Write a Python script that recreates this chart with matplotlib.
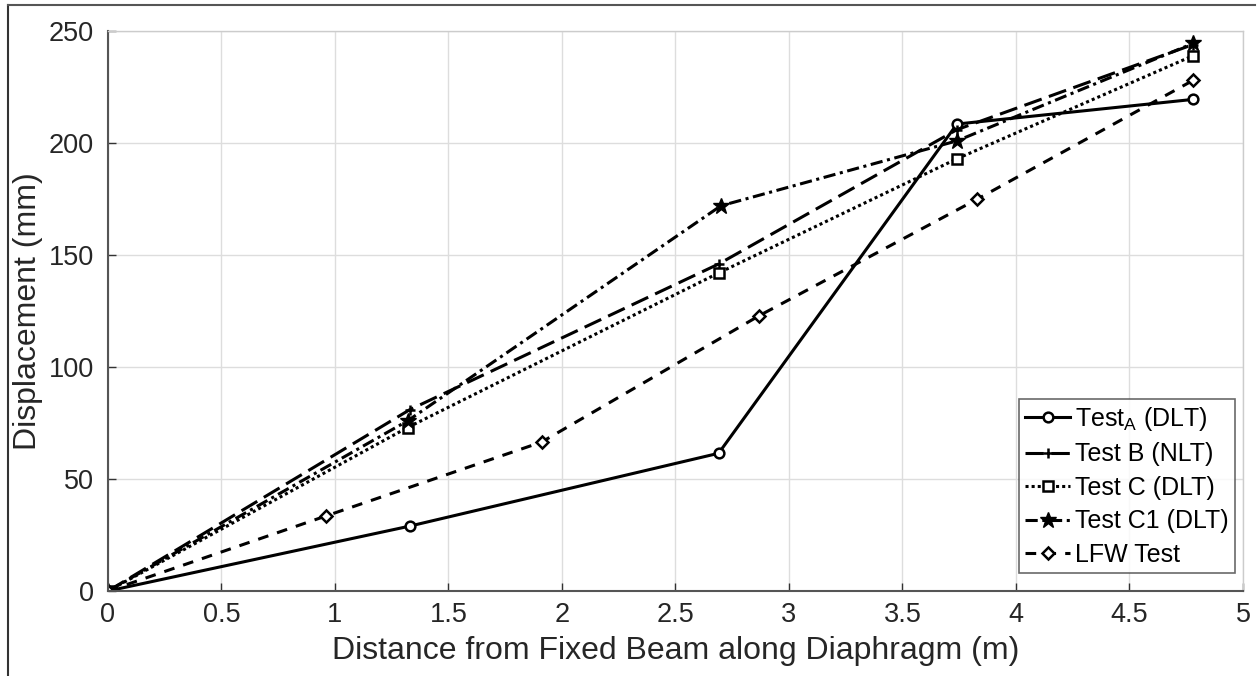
import matplotlib
matplotlib.use('Agg')
import matplotlib.pyplot as plt
from matplotlib.lines import Line2D

plt.rcParams['font.family'] = ['Liberation Sans', 'DejaVu Sans']

# distance along diaphragm (m) and displacement (mm) for each test
x_a = [0, 1.33, 2.69, 3.74, 4.78]
y_a = [0, 29, 61.5, 208.5, 219.5]
x_b = [0, 1.33, 2.69, 3.74, 4.78]
y_b = [0, 81, 146, 206, 244]
x_c = [0, 1.32, 2.69, 3.74, 4.78]
y_c = [0, 73, 142, 193, 239]
x_c1 = [0, 1.32, 2.70, 3.74, 4.78]
y_c1 = [0, 76, 172, 201, 244.5]
x_lfw = [0, 0.96, 1.91, 2.87, 3.83, 4.78]
y_lfw = [0, 33.5, 66.5, 123, 175, 228]

names = ['Test$_{\\mathregular{A}}$ (DLT)', 'Test B (NLT)', 'Test C (DLT)',
         'Test C1 (DLT)', 'LFW Test']
xticks = [0, 0.5, 1, 1.5, 2, 2.5, 3, 3.5, 4, 4.5, 5]
yticks = [0, 50, 100, 150, 200, 250]

fig = plt.figure(figsize=(12.6, 6.76), dpi=100)
ax = fig.add_axes([0.0857, 0.1257, 0.9008, 0.8283])

k = dict(color='black', lw=2.2, ms=7, mew=1.8)
ax.plot(x_a, y_a, '-', marker='o', mfc='white', label=names[0], **k)
ax.plot(x_b, y_b, linestyle=(0, (6, 2.5)), marker='+', label=names[1], **k)
ax.plot(x_c, y_c, linestyle=(0, (1, 1)), marker='s', mfc='white', label=names[2], **k)
ax.plot(x_c1, y_c1, linestyle=(0, (4, 1.5, 1, 1.5)), marker='*', label=names[3],
        color='black', lw=2.2, ms=12, mew=1)
ax.plot(x_lfw, y_lfw, linestyle=(0, (3.5, 3)), marker='D', mfc='white', label=names[4],
        color='black', lw=2.2, ms=6, mew=1.8)

ax.set_xlim(0, 5)
ax.set_ylim(0, 250)
ax.set_xticks(xticks)
ax.set_xticklabels(['0', '0.5', '1', '1.5', '2', '2.5', '3', '3.5', '4', '4.5', '5'])
ax.set_yticks(yticks)
ax.grid(True, color='#dddddd', lw=1)
ax.set_axisbelow(True)
ax.tick_params(direction='in', length=6, width=1, colors='#333333',
               labelsize=19.5, labelcolor='#262626', pad=8)
ax.tick_params(axis='y', pad=10)
for s in ['left', 'bottom']:
    ax.spines[s].set_color('#555555')
    ax.spines[s].set_linewidth(1.5)
for s in ['top', 'right']:
    ax.spines[s].set_color('#cccccc')
    ax.spines[s].set_linewidth(1)

ax.set_xlabel('Distance from Fixed Beam along Diaphragm (m)', fontsize=23,
              color='#262626', labelpad=6)
ax.set_ylabel('Displacement (mm)', fontsize=23, color='#262626', labelpad=4)

leg = ax.legend(loc='lower right', bbox_to_anchor=(0.993, 0.032), fontsize=18,
                frameon=True, fancybox=False, edgecolor='#444444',
                handlelength=1.8, handletextpad=0.2, borderpad=0.25,
                labelspacing=0.38, borderaxespad=0)
leg.get_frame().set_linewidth(1.2)

# outer frame lines on the left and top
fig.add_artist(Line2D([8 / 1260, 8 / 1260], [0, 1 - 5 / 676], color='#333333', lw=1.5))
fig.add_artist(Line2D([8 / 1260, 1255 / 1260], [1 - 5 / 676, 1 - 5 / 676],
                      color='#555555', lw=1.5))

fig.savefig('out.png', dpi=100)
